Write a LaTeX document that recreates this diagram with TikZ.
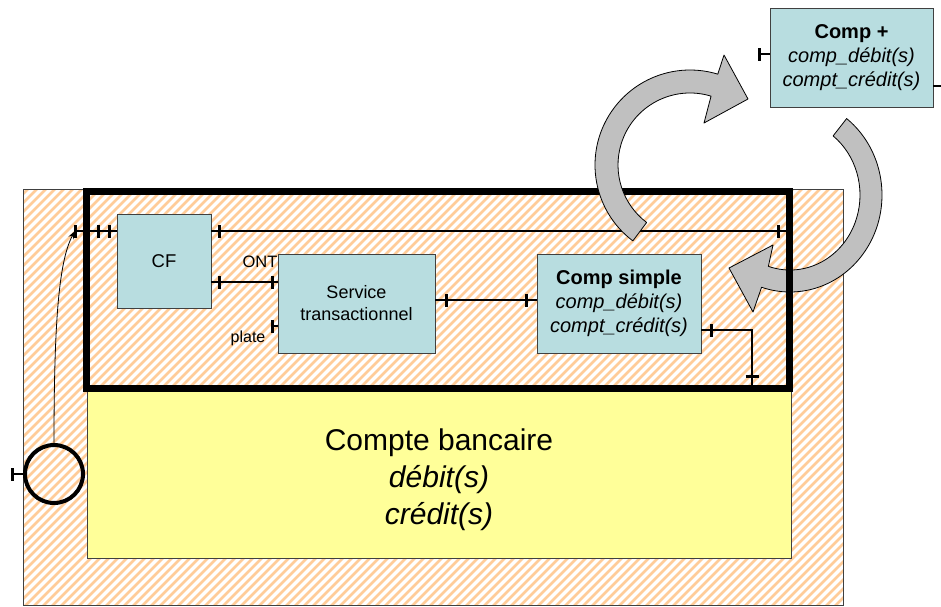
\documentclass[tikz,border=0pt]{standalone}
\usepackage{fontspec}
\setmainfont{Liberation Sans}
\usetikzlibrary{arrows.meta, positioning, calc, decorations.markings}
\definecolor{boxblue}{HTML}{B8DDE0}
\definecolor{hatchorange}{HTML}{FFCC99}
\definecolor{acctyellow}{HTML}{FFFF99}
\definecolor{swinggray}{HTML}{C0C0C0}
\definecolor{edgegray}{HTML}{404040}

\begin{document}
\begin{tikzpicture}[
    x=1pt, y=-1pt,
    every node/.style={font=\fontsize{20}{24}\selectfont},
    compbox/.style={rectangle, draw=edgegray, fill=boxblue, line width=0.8pt,
                    inner sep=0pt, outer sep=0pt, align=center},
    wire/.style={line width=2.2pt},
    tick at/.style={postaction={decorate, decoration={markings,
        mark=at position #1 with {\draw[line width=3pt] (0pt,-6.5pt) -- (0pt,6.5pt);}}}},
    cyclearrow/.style={draw=black, fill=swinggray, line width=0.8pt, line join=round},
    hatch/.style={hatchorange, line width=2.6pt},
]
\useasboundingbox (0,0) rectangle (941,606);

% hatched outer area
\begin{scope}
    \clip (23,189) rectangle (843,605);
    \foreach \h in {-420,-411,...,850}
        \draw[hatch] (\h,610) -- ++(430,-430);
\end{scope}
\draw[edgegray, line width=0.8pt] (23,189) rectangle (843,605);

% yellow account
\draw[fill=acctyellow, draw=edgegray, line width=1pt] (87,388) rectangle (791,558);
\node[align=center, font=\fontsize{30}{37}\selectfont] (compte) at (439,480)
    {Compte bancaire\\\textit{débit(s)}\\\textit{crédit(s)}};

% lower swing arrow (under the frame)
\coordinate (swingB) at (790,195);
\draw[cyclearrow] (swingB) ++(-52:92 and 97)
    arc[start angle=-52, end angle=108, x radius=92, y radius=97]
    -- (753,312) -- (729,268) -- (773,245)
    -- ([shift={(108:70 and 75)}]swingB)
    arc[start angle=108, end angle=-52, x radius=70, y radius=75] -- cycle;

% thick frame
\node[draw, line width=7pt, minimum width=703pt, minimum height=197pt,
      inner sep=0pt, outer sep=0pt] (frame) at (437.5,289.5) {};

% components
\node[compbox, minimum width=94pt, minimum height=94pt,
      font=\fontsize{18.5}{22}\selectfont] (cf) at (164,261) {CF};
\node[compbox, minimum width=157pt, minimum height=99pt,
      font=\fontsize{18}{22}\selectfont] (serv) at (356.5,303.5)
    {Service\\transactionnel};
\node[compbox, minimum width=164pt, minimum height=99pt] (simple) at (619,303.5)
    {\textbf{Comp simple}\\\textit{comp\_débit(s)}\\\textit{compt\_crédit(s)}};
\node[compbox, minimum width=163pt, minimum height=99pt] (plus) at (851.5,57.5)
    {\textbf{Comp +}\\\textit{comp\_débit(s)}\\\textit{compt\_crédit(s)}};

% port circle
\node[circle, draw, line width=4pt, minimum size=58pt, inner sep=0pt,
      outer sep=0pt] (socket) at (54,474) {};
\coordinate (socketend) at (12,474);
\draw[wire, tick at=0pt] (socketend) -- (socket.west);

% connectors
\coordinate (entry) at (75,231);
\draw[wire, tick at=0pt, tick at=23pt, tick at=34pt] (entry) -- (entry -| cf.west);
\draw[wire, tick at=8pt, tick at=-11pt] (entry -| cf.east) -- (entry -| frame.east);

\path (cf.north east) ++(0,68) coordinate (cfont);
\draw[wire, tick at=8pt, tick at=-6pt] (cfont) -- (cfont -| serv.west);
\node[font=\fontsize{16.5}{19}\selectfont] (ontlabel) at (260,262) {ONT};

\coordinate (plateport) at (272,326);
\draw[wire, tick at=0pt] (plateport) -- (plateport -| serv.west);
\node[font=\fontsize{16}{18}\selectfont] (platelabel) at (248,338) {plate};

\path (serv.north east) ++(0,46) coordinate (servout);
\draw[wire, tick at=11pt, tick at=-11pt] (servout) -- (servout -| simple.west);

\path (simple.north east) ++(0,76) coordinate (simpleout);
\coordinate (drop) at (752,0);
\draw[wire, tick at=10pt, tick at=-12pt] (simpleout) -| (drop |- frame.south);

\path (plus.north west) ++(0,46) coordinate (plusin);
\draw[wire, tick at=0pt] ($(plusin)+(-11,0)$) -- (plusin);
\path (plus.north east) ++(0,78) coordinate (plusout);
\draw[wire] (plusout) -- ++(8,0);

\draw[-{Stealth[length=8pt, width=6pt]}, line width=0.8pt]
    (socket.north) .. controls (54,330) and (58,262) .. (entry);

% upper swing arrow (over the frame)
\coordinate (swingA) at (690,165);
\draw[cyclearrow] (swingA) ++(127:95)
    arc[start angle=127, end angle=287, radius=95]
    -- (724,55) -- (748,99) -- (704,123)
    -- ([shift={(287:72)}]swingA)
    arc[start angle=287, end angle=127, radius=72] -- cycle;

\end{tikzpicture}
\end{document}
